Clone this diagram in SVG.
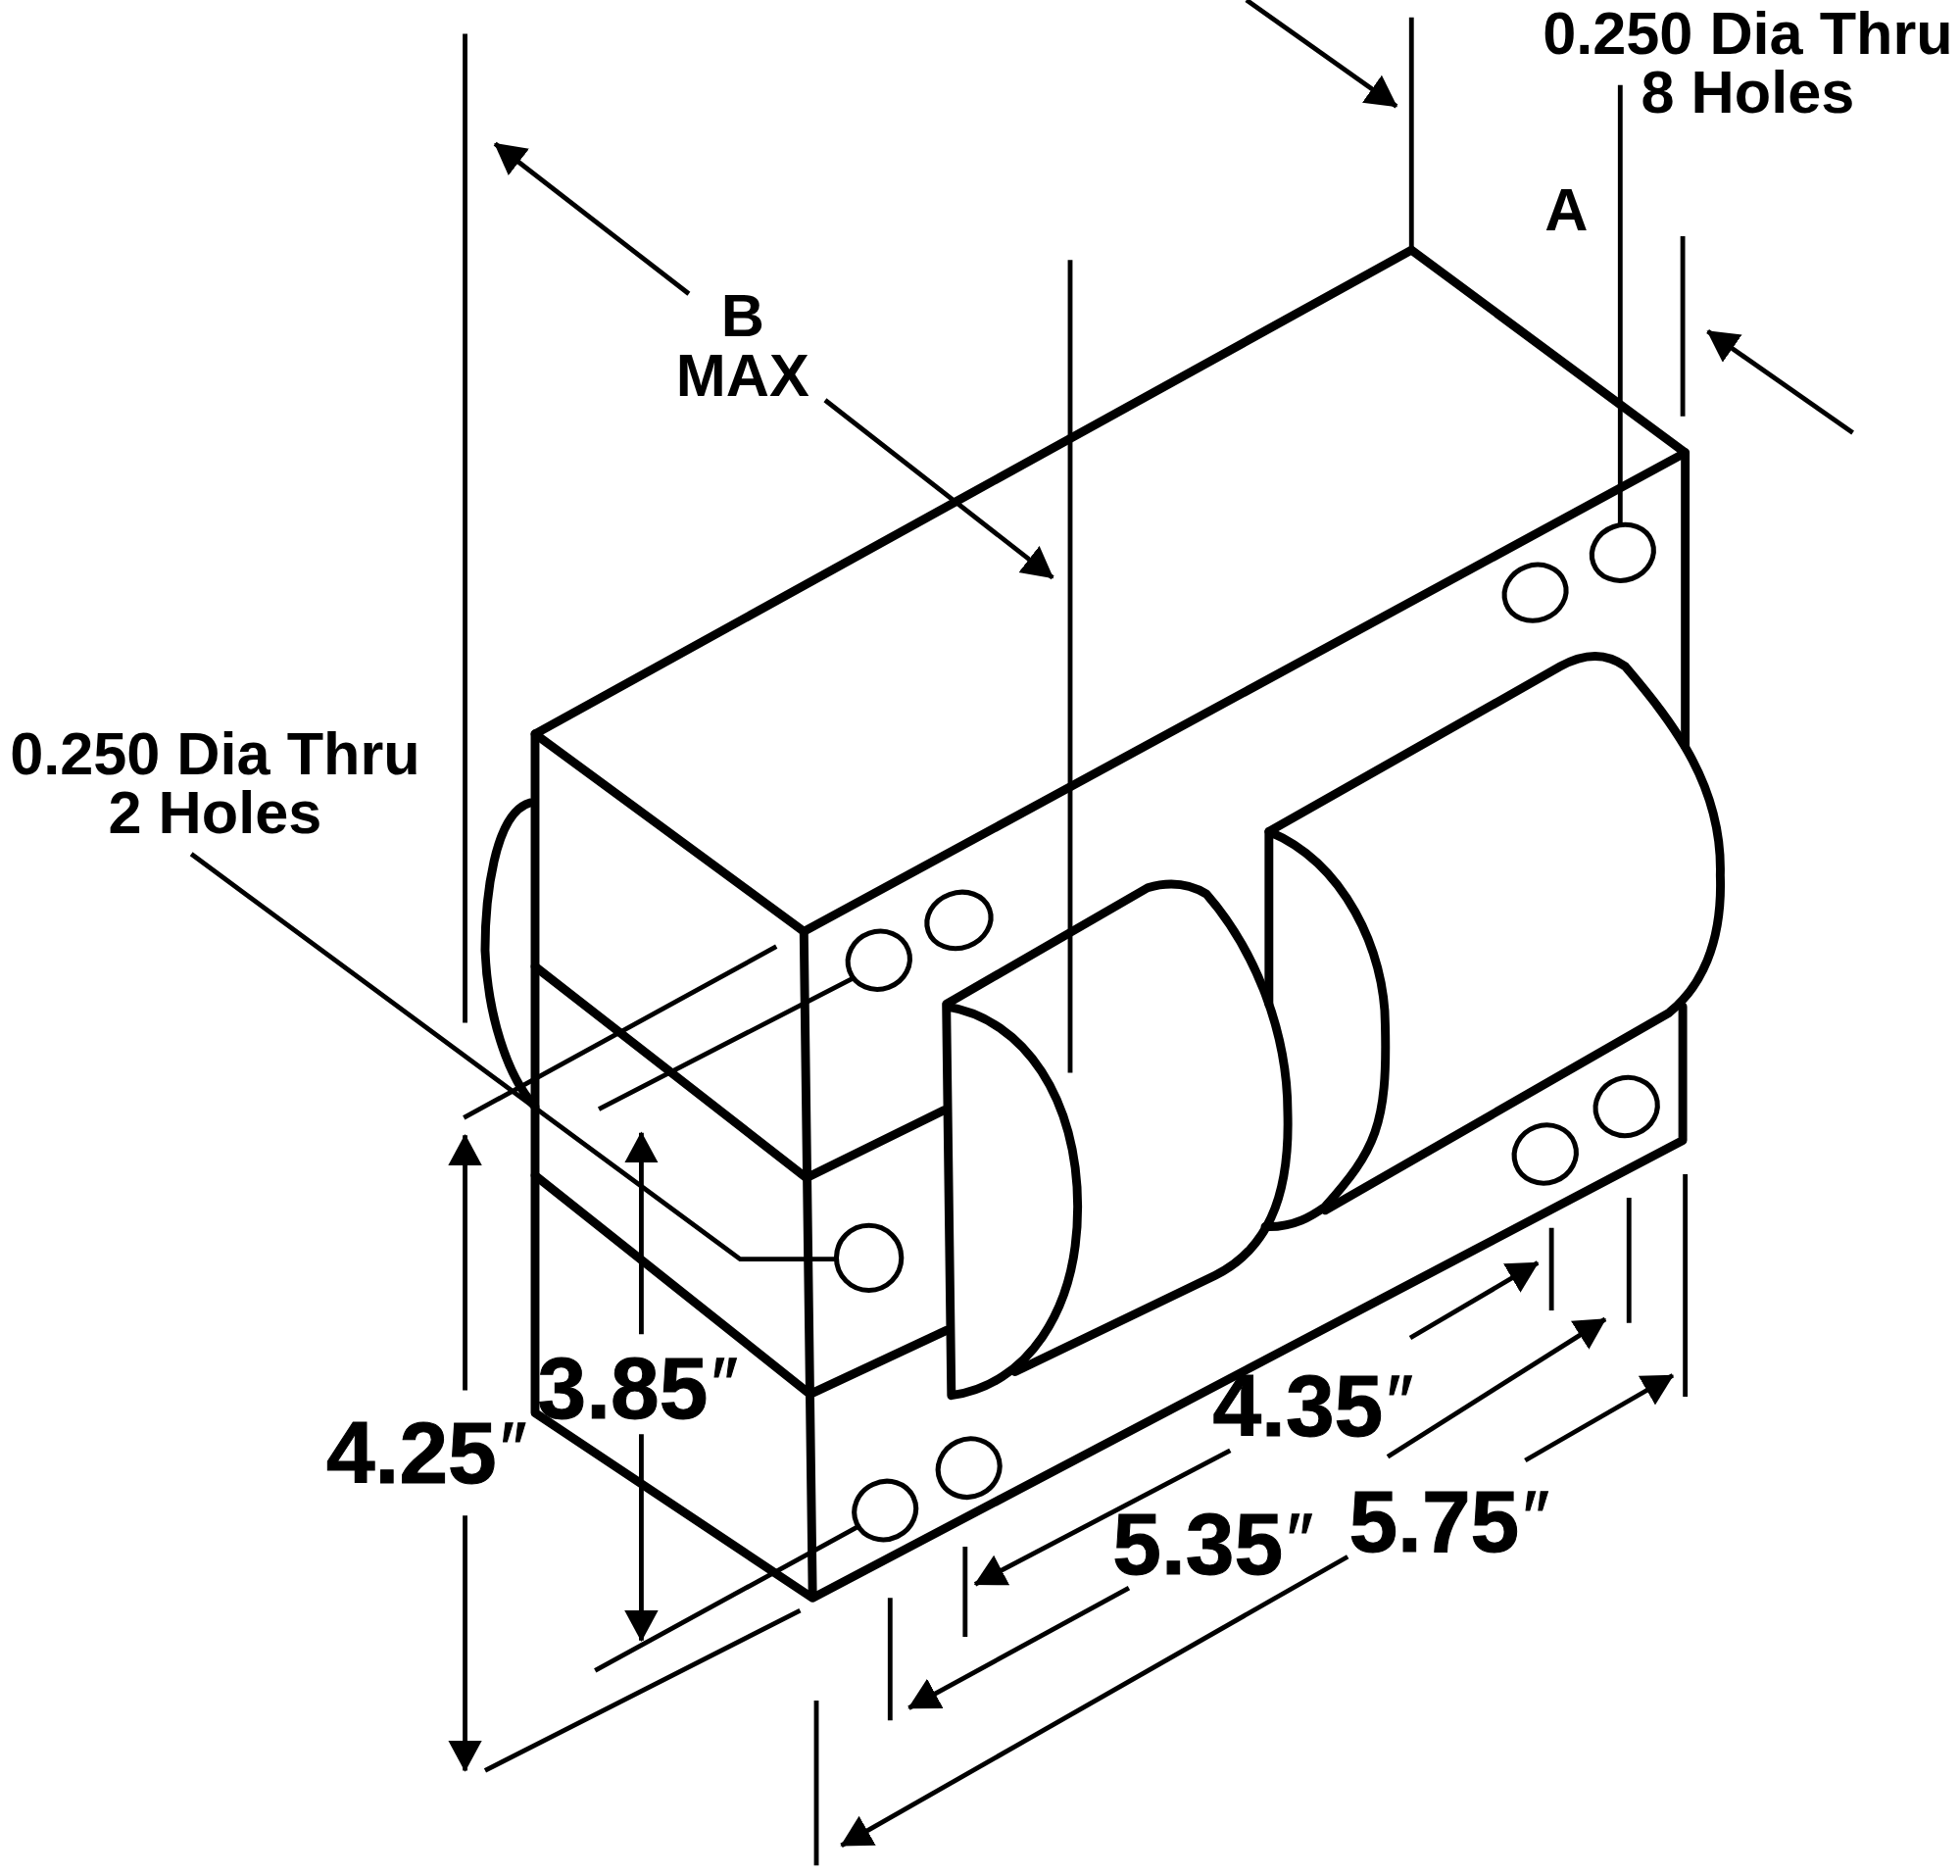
<svg xmlns="http://www.w3.org/2000/svg" width="2000" height="1914" viewBox="0 0 2000 1914">
<style>
.k{fill:none;stroke:#000;stroke-width:7;stroke-linejoin:round;stroke-linecap:round}
.t{fill:none;stroke:#000;stroke-width:3.8}
.h{fill:none;stroke:#000;stroke-width:4}
text{font-family:"Liberation Sans",Arial,sans-serif;font-weight:bold;fill:#000;text-anchor:middle}
.s{font-size:48px}
.b{font-size:70px;text-anchor:start;stroke:#000;stroke-width:.8}
.p{font-size:60px;font-weight:normal;font-style:italic}
</style>
<defs><marker id="a" markerUnits="userSpaceOnUse" markerWidth="30" markerHeight="30" refX="24" refY="13.5" orient="auto"><path d="M0 0L25 13.5L0 27Z" fill="#000"/></marker></defs>
<rect width="2000" height="1914" fill="#fff"/>
<g transform="scale(1.2757)">
<g id="body">
<path class="k" d="M428 587L1129 200L1348 362L643 745Z"/>
<path class="k" d="M428 587V1130L650 1278L1346 912V805M643 745L650 1278M1348 362V597"/>
<path class="k" d="M428 773L645 942L755 888M428 940L648 1115L757 1064"/>
<path class="k" d="M424 642C395 650 388 720 388 760C390 810 405 860 428 885"/>
</g>
<g id="coil-front">
<path class="k" d="M757 805L761 1116C820 1108 862 1050 862 965C862 880 820 815 757 805Z"/>
<path class="k" d="M757 803L918 710C935 705 950 706 965 715C1000 755 1030 820 1030 890C1032 960 1012 1000 972 1020L812 1097"/>
</g>
<g id="coil-rear">
<path class="k" d="M1015 803V665C1075 690 1108 760 1108 820C1110 900 1100 920 1060 965C1050 972 1035 982 1012 981"/>
<path class="k" d="M1015 665L1248 533C1268 522 1285 522 1300 533C1340 580 1378 630 1376 700C1378 755 1360 790 1335 810L1060 968"/>
</g>
<g id="holes">
<ellipse class="h" cx="1298" cy="442" rx="25" ry="22" transform="rotate(-20 1298 442)"/>
<ellipse class="h" cx="1228" cy="474" rx="25" ry="22" transform="rotate(-20 1228 474)"/>
<ellipse class="h" cx="767" cy="736" rx="26" ry="22" transform="rotate(-20 767 736)"/>
<ellipse class="h" cx="703" cy="768" rx="25" ry="23" transform="rotate(-20 703 768)"/>
<ellipse class="h" cx="695" cy="1006" rx="26" ry="26"/>
<ellipse class="h" cx="1301" cy="885" rx="25" ry="23" transform="rotate(-20 1301 885)"/>
<ellipse class="h" cx="1236" cy="923" rx="25" ry="23" transform="rotate(-20 1236 923)"/>
<ellipse class="h" cx="775" cy="1174" rx="25" ry="23" transform="rotate(-25 775 1174)"/>
<ellipse class="h" cx="708" cy="1208" rx="25" ry="23" transform="rotate(-25 708 1208)"/>
</g>
<g id="connectors">
<path class="t" d="M372 27V818M1129 14V200M856 208V858M1296 68V420M1346 189V333M621 757L371 894M683 782L479 887M153 683L592 1007H668M688 1220L476 1336M640 1288L388 1416M1241 982V1048M1303 958V1058M1348 939V1117M772 1237V1309M712 1278V1376M653 1360V1492"/>
<g marker-end="url(#a)">
<path class="t" d="M997 0L1117 85"/>
<path class="t" d="M551 235L396 115"/>
<path class="t" d="M660 320L842 462"/>
<path class="t" d="M1482 346L1366 265"/>
<path class="t" d="M372 1112V908"/>
<path class="t" d="M372 1212V1416"/>
<path class="t" d="M513 1067V906"/>
<path class="t" d="M513 1147V1312"/>
<path class="t" d="M1128 1070L1230 1010"/>
<path class="t" d="M984 1160L780 1267"/>
<path class="t" d="M1110 1165L1284 1055"/>
<path class="t" d="M903 1270L727 1366"/>
<path class="t" d="M1220 1168L1338 1100"/>
<path class="t" d="M1078 1245L673 1476"/>
</g>
</g>
<g id="labels">
<text class="s" x="1398" y="43">0.250 Dia Thru</text>
<text class="s" x="1398" y="90">8 Holes</text>
<text class="s" x="1253" y="184">A</text>
<text class="s" x="594" y="269">B</text>
<text class="s" x="594" y="317">MAX</text>
<text class="s" x="172" y="619">0.250 Dia Thru</text>
<text class="s" x="172" y="666">2 Holes</text>
<text class="b" x="261" y="1186">4.25<tspan class="p" dy="-7">″</tspan></text>
<text class="b" x="430" y="1134">3.85<tspan class="p" dy="-7">″</tspan></text>
<text class="b" x="970" y="1148">4.35<tspan class="p" dy="-7">″</tspan></text>
<text class="b" x="890" y="1259">5.35<tspan class="p" dy="-7">″</tspan></text>
<text class="b" x="1079" y="1241">5.75<tspan class="p" dy="-7">″</tspan></text>
</g>
</g>
</svg>
